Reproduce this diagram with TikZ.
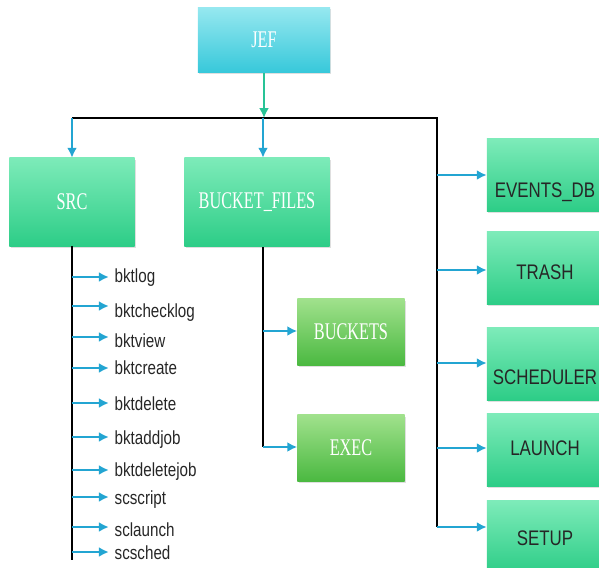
\documentclass[tikz,border=0pt]{standalone}
\usepackage{fontspec}
\setmainfont{Liberation Serif}
\newfontfamily\boxserif[FakeStretch=0.68]{Liberation Serif}
\newfontfamily\boxsans[FakeStretch=0.8]{Liberation Sans}
\usetikzlibrary{positioning, calc, arrows.meta, shadows}
\definecolor{jefcyan}{RGB}{55,200,218}
\definecolor{jeflight}{RGB}{150,232,240}
\definecolor{mint}{RGB}{45,205,135}
\definecolor{mintlight}{RGB}{125,235,185}
\definecolor{leafgreen}{RGB}{75,185,65}
\definecolor{leaflight}{RGB}{160,225,140}
\definecolor{linkblue}{RGB}{35,165,210}
\definecolor{jefgreen}{RGB}{40,195,150}
\tikzset{
  boxshadow/.style={drop shadow={shadow xshift=0.8pt, shadow yshift=-1.2pt, fill=black!25}},
  topbox/.style={boxshadow, top color=jeflight, bottom color=jefcyan, text=white,
    minimum width=3.3cm, minimum height=1.625cm, font=\boxserif\fontsize{17}{19}\selectfont},
  dirbox/.style={boxshadow, top color=mintlight, bottom color=mint, text=white,
    minimum height=2.2cm, font=\boxserif\fontsize{17}{19}\selectfont},
  subbox/.style={boxshadow, top color=leaflight, bottom color=leafgreen, text=white,
    minimum width=2.675cm, minimum height=1.65cm, font=\boxserif\fontsize{17}{19}\selectfont},
  sidebox/.style={boxshadow, top color=mintlight, bottom color=mint,
    minimum width=2.9cm, minimum height=1.8cm},
  sidetext/.style={text=black!85, inner sep=0pt, font=\boxsans\fontsize{15}{17}\selectfont},
  itemlabel/.style={anchor=west, inner sep=1pt, text=black!85, font=\boxsans\fontsize{13.5}{15}\selectfont},
  busline/.style={draw=black, line width=1.3pt},
  bluearrow/.style={draw=linkblue, line width=1.6pt, -{Latex[length=7pt, width=7pt]}},
  jefarrow/.style={draw=jefgreen, line width=1.6pt, -{Latex[length=7pt, width=7pt]}}
}
\begin{document}
\begin{tikzpicture}[x=0.025cm, y=-0.025cm]
  \useasboundingbox (0,0) rectangle (599,567);

  % top level
  \node[topbox] (jef) at (264,40) {JEF};
  \coordinate (busl) at (72,118);
  \coordinate (busm) at (263,118);
  \coordinate (busr) at (437,118);
  \coordinate (rend) at (437,527);
  \draw[busline] (busl) -- (busr) -- (rend);
  \draw[jefarrow] (jef.south) -- (jef.south |- busm);

  % SRC and BUCKET_FILES
  \node[dirbox, minimum width=3.125cm] (src) at (72,202) {SRC};
  \node[dirbox, minimum width=3.625cm] (bfiles) at (257,202) {BUCKET\_FILES};
  \draw[bluearrow] (busl) -- (busl |- src.north);
  \draw[bluearrow] (busm) -- (busm |- bfiles.north);

  % commands under SRC
  \coordinate (srcend) at (72,560);
  \draw[busline] (src.south) -- (srcend);
  \foreach \nm/\ay/\ty [count=\i] in {bktlog/277/278, bktchecklog/306/313, bktview/337/341,
      bktcreate/368/368, bktdelete/403/404, bktaddjob/437/440, bktdeletejob/470/472,
      scscript/497/500, sclaunch/527/530, scsched/552/553}{
    \node[itemlabel] (c\i) at (113,\ty) {\nm};
    \coordinate (s\i) at (72,\ay);
    \draw[bluearrow, shorten >=3pt] (s\i) -- (s\i -| c\i.west);
  }

  % BUCKETS and EXEC
  \coordinate (bftop) at (263,247);
  \coordinate (bfend) at (263,447);
  \draw[busline] (bftop) -- (bfend);
  \node[subbox] (buckets) at (351,332) {BUCKETS};
  \node[subbox] (exec) at (351,448) {EXEC};
  \coordinate (bk) at (263,331);
  \draw[bluearrow] (bk) -- (bk -| buckets.west);
  \draw[bluearrow] (bfend) -- (bfend -| exec.west);

  % right column
  \foreach \nm/\yc/\ty/\ay/\txt in {events/175/192/175/EVENTS\_DB, trash/268/272/270/TRASH,
      sched/364/377/363/SCHEDULER, launch/450/448/448/LAUNCH, setup/537/538/527/SETUP}{
    \node[sidebox] (\nm) at (545,\yc) {};
    \node[sidetext] (\nm-t) at (545,\ty) {\txt};
    \coordinate (r\nm) at (437,\ay);
    \draw[bluearrow] (r\nm) -- (r\nm -| \nm.west);
  }
\end{tikzpicture}
\end{document}
